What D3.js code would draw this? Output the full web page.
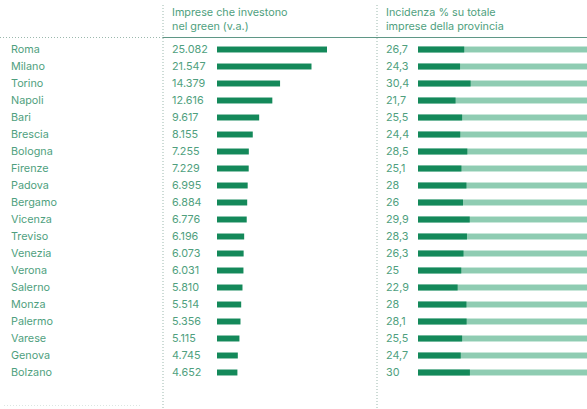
<!DOCTYPE html>
<html>
<head>
<meta charset="utf-8">
<script src="https://cdn.jsdelivr.net/npm/d3@7"></script>
<style>
  body { margin: 0; background: #fff; }
  text { font-family: Inter, "Open Sans", sans-serif; }
</style>
</head>
<body>
<div id="chart"></div>
<script>
// Data
var provinces = ["Roma", "Milano", "Torino", "Napoli", "Bari", "Brescia", "Bologna", "Firenze",
  "Padova", "Bergamo", "Vicenza", "Treviso", "Venezia", "Verona", "Salerno", "Monza",
  "Palermo", "Varese", "Genova", "Bolzano"];
var imprese = [25082, 21547, 14379, 12616, 9617, 8155, 7255, 7229, 6995, 6884, 6776, 6196,
  6073, 6031, 5810, 5514, 5356, 5115, 4745, 4652];
var incidenza = [26.7, 24.3, 30.4, 21.7, 25.5, 24.4, 28.5, 25.1, 28, 26, 29.9, 28.3, 26.3,
  25, 22.9, 28, 28.1, 25.5, 24.7, 30];
var headers = [["Imprese che investono", "nel green (v.a.)"],
  ["Incidenza % su totale", "imprese della provincia"]];

var width = 587, height = 409;
var textColor = "#4f9f7e", darkGreen = "#14895a", lightGreen = "#8fccb2";
var fontSize = 10.8;

var svg = d3.select("#chart").append("svg")
  .attr("width", width)
  .attr("height", height);

// row positions
var y = d3.scaleBand()
  .domain(provinces)
  .range([41, 381])
  .paddingInner(0.65)
  .paddingOuter(0.325);

// left bars: absolute values
var xAbs = d3.scaleLinear().domain([0, 25082]).range([217, 327]);
// right bars: percentage of 100
var xPct = d3.scaleLinear().domain([0, 100]).range([418, 591]);

// ==============================
// Grid lines
// ==============================
[163, 377].forEach(function(x) {
  svg.append("line")
    .attr("x1", x).attr("x2", x).attr("y1", 5).attr("y2", height)
    .attr("stroke", "#9bb8ad").attr("stroke-width", 1)
    .attr("stroke-dasharray", "1,2");
});

svg.append("line")
  .attr("x1", 0).attr("x2", 163).attr("y1", 37.5).attr("y2", 37.5)
  .attr("stroke", "#9bb8ad").attr("stroke-dasharray", "1,2");

svg.append("line")
  .attr("x1", 163).attr("x2", width).attr("y1", 37.5).attr("y2", 37.5)
  .attr("stroke", "#5f9786").attr("stroke-width", 1.2);

svg.append("line")
  .attr("x1", 4).attr("x2", 140).attr("y1", 405.5).attr("y2", 405.5)
  .attr("stroke", "#dde6e2").attr("stroke-dasharray", "1,2");

// ==============================
// Headers
// ==============================
[172, 386].forEach(function(x, i) {
  svg.append("text")
    .attr("x", x).attr("y", 16)
    .attr("fill", textColor)
    .attr("font-size", fontSize)
    .selectAll("tspan")
    .data(headers[i])
    .enter().append("tspan")
    .attr("x", x)
    .attr("dy", (d, j) => j === 0 ? 0 : 14)
    .text(d => d);
});

// ==============================
// Rows
// ==============================
var rows = svg.selectAll(".row")
  .data(provinces)
  .enter().append("g")
  .attr("class", "row");

rows.append("text")
  .attr("x", 11)
  .attr("y", d => y(d) + y.bandwidth() / 2 + 3.8)
  .attr("fill", textColor)
  .attr("font-size", fontSize)
  .text(d => d);

rows.append("text")
  .attr("x", 172)
  .attr("y", d => y(d) + y.bandwidth() / 2 + 3.8)
  .attr("fill", textColor)
  .attr("font-size", fontSize)
  .text((d, i) => d3.format(",")(imprese[i]).replace(/,/g, "."));

rows.append("rect")
  .attr("x", xAbs(0))
  .attr("y", d => y(d))
  .attr("width", (d, i) => xAbs(imprese[i]) - xAbs(0))
  .attr("height", y.bandwidth())
  .attr("fill", darkGreen);

rows.append("text")
  .attr("x", 386)
  .attr("y", d => y(d) + y.bandwidth() / 2 + 3.8)
  .attr("fill", textColor)
  .attr("font-size", fontSize)
  .text((d, i) => String(incidenza[i]).replace(".", ","));

rows.append("rect")
  .attr("x", xPct(0))
  .attr("y", d => y(d))
  .attr("width", xPct(100) - xPct(0))
  .attr("height", y.bandwidth())
  .attr("fill", lightGreen);

rows.append("rect")
  .attr("x", xPct(0))
  .attr("y", d => y(d))
  .attr("width", (d, i) => xPct(incidenza[i]) - xPct(0))
  .attr("height", y.bandwidth())
  .attr("fill", darkGreen);
</script>
</body>
</html>
